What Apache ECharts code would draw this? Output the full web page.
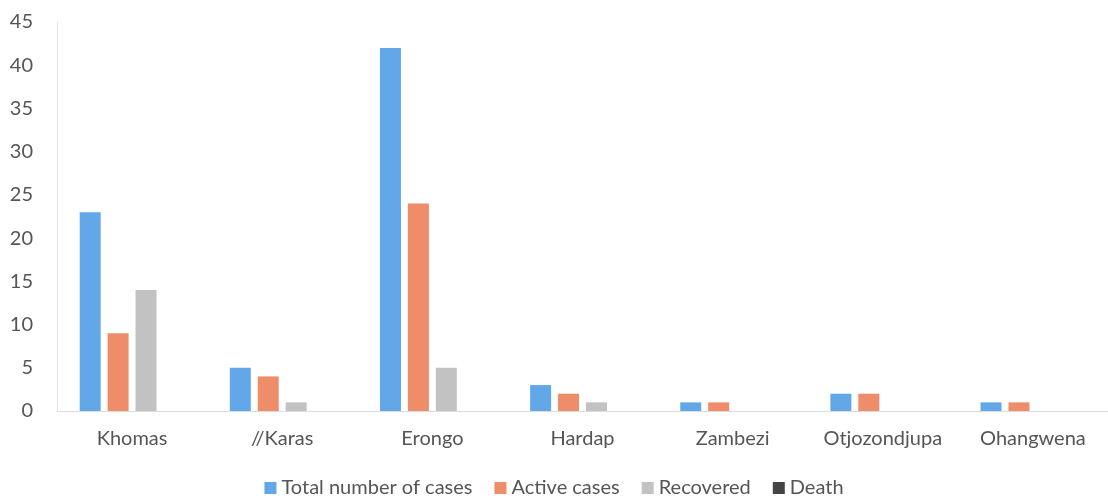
<!DOCTYPE html>
<html><head><meta charset="utf-8">
<script src="https://cdn.jsdelivr.net/npm/echarts@6/dist/echarts.min.js"></script>
<style>html,body{margin:0;padding:0;background:#fff}#c{width:1108px;height:498px}</style>
</head><body><div id="c"></div>
<script>
const categories = ['Khomas','//Karas','Erongo','Hardap','Zambezi','Otjozondjupa','Ohangwena'];
const totalCases = [23,5,42,3,1,2,1];
const activeCases = [9,4,24,2,1,2,1];
const recovered = [14,1,5,1,0,0,0];
const death = [0,0,0,0,0,0,0];
const yTicks = [0,5,10,15,20,25,30,35,40,45];

const font = 'Lato';
const chart = echarts.init(document.getElementById('c'));
const mk = (name, data, color) => ({name, type:'bar', data, barWidth:21, barGap:'33%', itemStyle:{color}});
chart.setOption({
  animation:false,
  textStyle:{fontFamily:font},
  grid:{left:57, right:0, top:22, bottom:87},
  legend:{top:473, left:'center', itemWidth:12, itemHeight:12, itemGap:22, icon:'rect',
    textStyle:{fontFamily:font, fontSize:20, color:'#555'}},
  xAxis:{type:'category', data:categories,
    axisLine:{lineStyle:{color:'#ddd'}}, axisTick:{show:false},
    axisLabel:{interval:0, fontFamily:font, fontSize:20, color:'#555', margin:18}},
  yAxis:{type:'value', min:yTicks[0], max:yTicks[yTicks.length-1], interval:5,
    axisLine:{show:true, lineStyle:{color:'#e6e6e6'}}, splitLine:{show:false},
    axisLabel:{fontFamily:font, fontSize:20, color:'#555', margin:24}},
  series:[
    mk('Total number of cases', totalCases, '#62A8E8'),
    mk('Active cases', activeCases, '#EF8C6A'),
    mk('Recovered', recovered, '#C2C2C2'),
    mk('Death', death, '#444444')
  ]
});
</script></body></html>
